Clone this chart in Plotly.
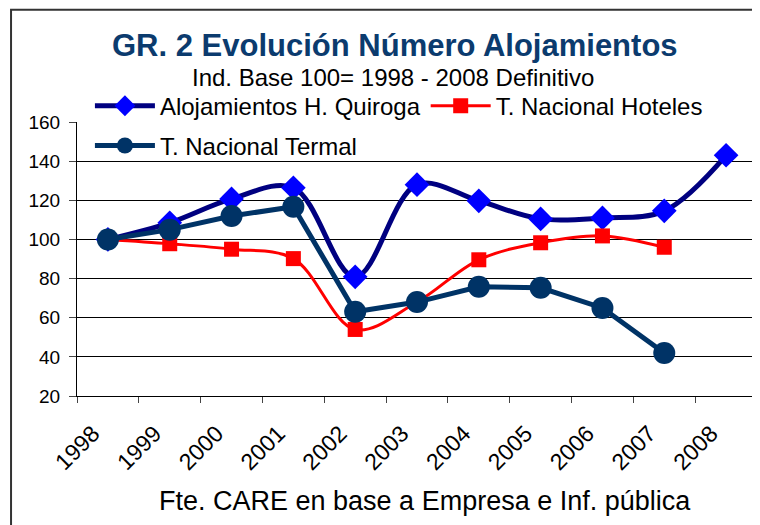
import plotly.graph_objects as go

years = ['1998', '1999', '2000', '2001', '2002', '2003', '2004', '2005', '2006', '2007', '2008']
quiroga = [100, 108.5, 120.7, 126.4, 80.9, 128, 119.7, 110.5, 111, 114.6, 143]
hoteles = [100, 97.8, 95, 90.2, 54, 68, 89.6, 98.3, 101.8, 96, None]
termal = [100, 105, 112, 116.7, 63, 68, 75.8, 75.3, 65, 42, None]

font = 'Liberation Sans, Arial, sans-serif'

fig = go.Figure()
fig.add_trace(go.Scatter(
    x=years, y=quiroga, name='Alojamientos H. Quiroga', mode='lines+markers',
    line=dict(color='#000080', width=5, shape='spline', smoothing=1),
    marker=dict(symbol='diamond', size=19, color='#0000FF'), legend='legend',
))
fig.add_trace(go.Scatter(
    x=years, y=hoteles, name='T. Nacional Hoteles', mode='lines+markers',
    line=dict(color='#FF0000', width=3, shape='spline', smoothing=1),
    marker=dict(symbol='square', size=15, color='#FF0000'), legend='legend',
))
fig.add_trace(go.Scatter(
    x=years, y=termal, name='T. Nacional Termal', mode='lines+markers',
    line=dict(color='#003366', width=5),
    marker=dict(symbol='circle', size=22, color='#003366'), legend='legend2',
))

# white band that hides the 140/160 gridlines behind the legend
fig.add_shape(type='rect', xref='paper', yref='y', x0=0.002, x1=1, y0=131, y1=170,
              fillcolor='white', line_width=0, layer='between')
# outer chart frame
fig.add_shape(type='rect', xref='paper', yref='paper', x0=-0.097, x1=1.3, y0=-1, y1=1.41,
              line=dict(color='#333333', width=2), fillcolor='rgba(0,0,0,0)')

fig.add_annotation(text='<b>GR. 2 Evolución Número Alojamientos</b>', xref='paper', yref='paper',
                   x=0.468, y=1.281, xanchor='center', yanchor='middle', showarrow=False,
                   font=dict(size=31, color='#0B3B6E', family=font))
fig.add_annotation(text='Ind. Base 100= 1998 - 2008 Definitivo', xref='paper', yref='paper',
                   x=0.465, y=1.164, xanchor='center', yanchor='middle', showarrow=False,
                   font=dict(size=24, color='black', family=font))
fig.add_annotation(text='Fte. CARE en base a Empresa e Inf. pública', xref='paper', yref='paper',
                   x=0.512, y=-0.385, xanchor='center', yanchor='middle', showarrow=False,
                   font=dict(size=27, color='black', family=font))

fig.update_layout(
    width=760, height=525,
    margin=dict(l=69, r=11, t=114, b=137),
    plot_bgcolor='white', paper_bgcolor='white',
    font=dict(family=font, color='black'),
    legend=dict(orientation='h', x=0.019, y=1.14, xanchor='left', yanchor='top',
                font=dict(size=24), itemwidth=60, bgcolor='rgba(0,0,0,0)'),
    legend2=dict(orientation='h', x=0.019, y=0.995, xanchor='left', yanchor='top',
                 font=dict(size=24), itemwidth=60, bgcolor='rgba(0,0,0,0)'),
    xaxis=dict(type='category', tickson='boundaries', ticks='outside', ticklen=6,
               tickangle=-45, tickfont=dict(size=23), ticklabelshift=-15, ticklabelstandoff=14,
               showline=True, linecolor='black', linewidth=1, showgrid=False, range=[-0.5, 10.5]),
    yaxis=dict(range=[20, 160], dtick=20, ticks='outside', ticklen=7, tickfont=dict(size=19),
               ticklabelstandoff=5, showline=True, linecolor='black', linewidth=1, showgrid=True,
               gridcolor='black', gridwidth=1, zeroline=False),
)

fig.write_html('out.html')
